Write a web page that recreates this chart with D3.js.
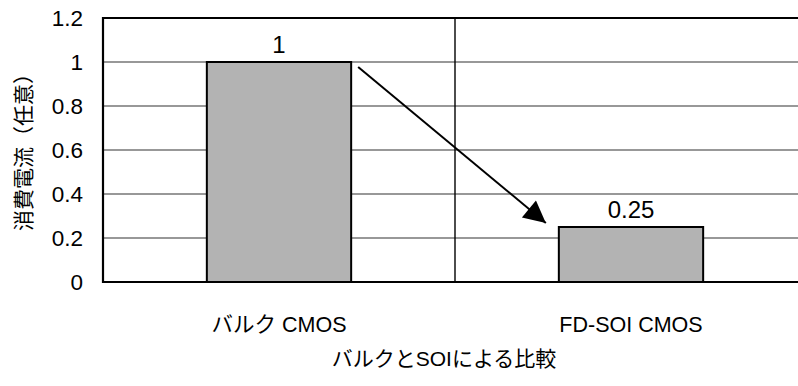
<!DOCTYPE html>
<html>
<head>
<meta charset="utf-8">
<script src="https://cdn.jsdelivr.net/npm/d3@7"></script>
<style>
  html, body { margin: 0; padding: 0; background: #fff; }
  svg { display: block; }
  text { font-family: "Liberation Sans", Arial, "Noto Sans CJK JP", sans-serif; fill: #000; }
</style>
</head>
<body>
<svg id="chart" width="798" height="386"></svg>
<script>
// Power consumption: bulk CMOS vs FD-SOI CMOS (arbitrary units)
const categories = ["バルク CMOS", "FD-SOI CMOS"];
const values = [1, 0.25];
const valueLabels = ["1", "0.25"];
const yTicks = [0, 0.2, 0.4, 0.6, 0.8, 1, 1.2];
const yTickLabels = ["0", "0.2", "0.4", "0.6", "0.8", "1", "1.2"];
const yTitle = "消費電流（任意）";
const xTitle = "バルクとSOIによる比較";

const svg = d3.select("#chart");
const plot = { left: 103, right: 807, top: 18, bottom: 282 };

const x = d3.scaleBand().domain(categories).range([plot.left, plot.right]).padding(0);
const y = d3.scaleLinear().domain([0, 1.2]).range([plot.bottom, plot.top]);
const barW = x.bandwidth() * 0.41;

// horizontal gridlines
svg.append("g")
  .selectAll("line")
  .data(yTicks.filter(t => t > 0 && t < 1.2))
  .join("line")
  .attr("x1", plot.left).attr("x2", plot.right)
  .attr("y1", d => y(d)).attr("y2", d => y(d))
  .attr("stroke", "#333").attr("stroke-width", 1.2);

// category divider
svg.append("line")
  .attr("x1", x(categories[1])).attr("x2", x(categories[1]))
  .attr("y1", plot.top).attr("y2", plot.bottom)
  .attr("stroke", "#000").attr("stroke-width", 1.4);

// bars
svg.append("g")
  .selectAll("rect")
  .data(values)
  .join("rect")
  .attr("x", (d, i) => x(categories[i]) + (x.bandwidth() - barW) / 2)
  .attr("width", barW)
  .attr("y", d => y(d))
  .attr("height", d => y(0) - y(d))
  .attr("fill", "#b3b3b3")
  .attr("stroke", "#000")
  .attr("stroke-width", 2);

// value labels
svg.append("g")
  .selectAll("text")
  .data(values)
  .join("text")
  .attr("x", (d, i) => x(categories[i]) + x.bandwidth() / 2)
  .attr("y", d => y(d) - 9)
  .attr("text-anchor", "middle")
  .attr("font-size", 24)
  .text((d, i) => valueLabels[i]);

// plot frame
svg.append("path")
  .attr("d", `M${plot.right},${y(1.2)}H${plot.left}V${y(0)}H${plot.right}`)
  .attr("fill", "none")
  .attr("stroke", "#000")
  .attr("stroke-width", 2.2);

// y axis tick labels
const yAxis = d3.axisLeft(y)
  .tickValues(yTicks)
  .tickFormat((d, i) => yTickLabels[i])
  .tickSize(0)
  .tickPadding(20);
const yg = svg.append("g").attr("transform", `translate(${plot.left},0)`).call(yAxis);
yg.select(".domain").remove();
yg.selectAll("text")
  .attr("font-size", 22.5)
  .attr("font-family", "Liberation Sans, Arial, sans-serif")
  .attr("fill", "#000");

// category labels
const xAxis = d3.axisBottom(x).tickSize(0).tickPadding(35);
const xg = svg.append("g").attr("transform", `translate(0,${plot.bottom})`).call(xAxis);
xg.select(".domain").remove();
xg.selectAll("text")
  .attr("font-size", 21.5)
  .attr("font-family", "Liberation Sans, Arial, Noto Sans CJK JP, sans-serif")
  .attr("fill", "#000");

// axis titles
svg.append("text")
  .attr("x", 444).attr("y", 366)
  .attr("text-anchor", "middle")
  .attr("font-size", 21)
  .text(xTitle);

svg.append("text")
  .attr("transform", "translate(31,147) rotate(-90)")
  .attr("text-anchor", "middle")
  .attr("font-size", 21)
  .text(yTitle);

// arrow from the bulk bar down to the FD-SOI bar
const defs = svg.append("defs");
defs.append("marker")
  .attr("id", "head")
  .attr("viewBox", "0 0 10 10")
  .attr("refX", 10).attr("refY", 5)
  .attr("markerWidth", 27).attr("markerHeight", 22)
  .attr("markerUnits", "userSpaceOnUse")
  .attr("orient", "auto")
  .append("path")
  .attr("d", "M0,0L10,5L0,10Z")
  .attr("fill", "#000");

const bar1Right = x(categories[0]) + (x.bandwidth() + barW) / 2;
const bar2Left = x(categories[1]) + (x.bandwidth() - barW) / 2;
svg.append("line")
  .attr("x1", bar1Right + 7).attr("y1", y(values[0]) + 5)
  .attr("x2", bar2Left - 13).attr("y2", y(values[1]) - 4)
  .attr("stroke", "#000")
  .attr("stroke-width", 2)
  .attr("marker-end", "url(#head)");
</script>
</body>
</html>
